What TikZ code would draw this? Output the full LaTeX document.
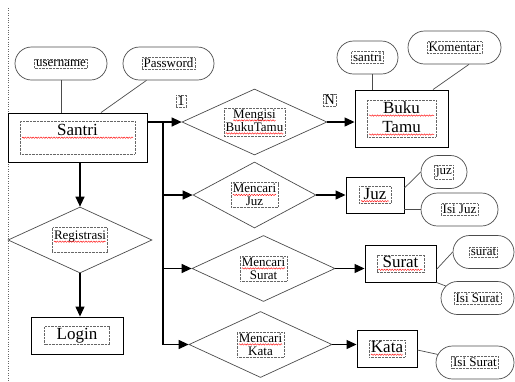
\documentclass[tikz,border=0pt]{standalone}
\usepackage{fontspec}
\setmainfont{Liberation Serif}
\usetikzlibrary{arrows.meta,shapes.geometric,shapes.misc,decorations.pathmorphing}
\newcommand\kecil{\fontsize{13}{13}\selectfont}
\newcommand\sedang{\fontsize{14.5}{15}\selectfont}
\newcommand\besar{\fontsize{17}{19}\selectfont}
\newcommand\salah[1]{\tikz[baseline=(w.base),x=1pt,y=1pt]{\node[inner sep=0,outer sep=0,draw=none] (w) {#1};
  \draw[red,line width=0.4pt,solid,decorate,decoration={snake,amplitude=0.7pt,segment length=2.6pt}]
    ([yshift=-2.2pt]w.base west) -- ([yshift=-2.2pt]w.base east);}}
\begin{document}
\begin{tikzpicture}[x=1pt,y=-1pt,
  entity/.style={draw,line width=0.9pt,inner sep=0},
  attrib/.style={rounded rectangle,draw=black!70,line width=0.7pt,minimum height=33,inner sep=0},
  relasi/.style={diamond,draw=black!70,line width=0.7pt,inner sep=0,minimum height=66},
  tbox/.style={draw=black!60,densely dotted,line width=0.4pt,inner sep=1.5pt,font=\kecil,align=center},
  garis/.style={draw=black!70,line width=0.7pt},
  arr/.style={line width=1.2pt,-{Triangle[length=10pt,width=9pt]}}]
\useasboundingbox (0,0) rectangle (515,381);
\draw[dotted,black!60] (8,8) -- (8,381);
% entitas
\node[entity,minimum width=139,minimum height=49,
  label={[tbox,font=\besar,minimum width=111,text height=13,text depth=17]center:\salah{Santri}}] (santri) at (77.5,137.5) {};
\node[entity,minimum width=93,minimum height=57,
  label={[tbox,font=\besar,minimum width=65]center:\salah{Buku}\\\salah{Tamu}}] (buku) at (401.5,118.5) {};
\node[entity,minimum width=58,minimum height=36,
  label={[tbox,font=\besar,minimum width=28]center:\salah{Juz}}] (juz) at (375,195) {};
\node[entity,minimum width=71,minimum height=37,
  label={[tbox,font=\besar,minimum width=44]center:\salah{Surat}}] (surat) at (400.5,263.5) {};
\node[entity,minimum width=60,minimum height=37,
  label={[tbox,font=\besar,minimum width=32]center:\salah{Kata}}] (kata) at (387,348.5) {};
\node[entity,minimum width=92,minimum height=37,
  label={[tbox,font=\besar,minimum width=65]center:Login}] (login) at (77,335.5) {};
% atribut
\foreach \nm/\px/\py/\w/\tx in {uname/61/63.5/92/username, pass/168.5/63.5/91/Password,
    asantri/367.5/57.5/61/santri, kom/454.5/47.5/93/Komentar, ajuz/444/172/46/juz,
    isijuz/459.5/209.5/77/Isi Juz, asurat/483.5/252/61/surat,
    isis1/477.5/298/73/Isi Surat, isis2/475/362.5/78/Isi Surat}
  \node[attrib,minimum width=\w,label={[tbox]center:\tx}] (\nm) at (\px,\py) {};
% relasi
\node[relasi,minimum width=145,
  label={[tbox]center:\salah{Mengisi}\\\salah{BukuTamu}}] (mengisi) at (254.5,122) {};
\foreach \nm/\px/\py/\w/\tx in {mjuz/254.5/195/123/Juz, msurat/263.5/268.5/143/Surat, mkata/260.5/344.5/143/Kata}
  \node[relasi,minimum width=\w,label={[tbox]center:\salah{Mencari}\\\tx}] (\nm) at (\px,\py) {};
\node[relasi,minimum width=144,
  label={[tbox,text height=10.5,text depth=11.5]center:\salah{Registrasi}}] (reg) at (80,240) {};
\node[tbox,font=\sedang] (satu) at (181,101) {1};
\node[tbox,font=\sedang] (banyak) at (329.5,100) {N};
% garis atribut
\draw[garis] (uname) -- (uname |- santri.north);
\draw[garis] ([xshift=-22]pass.south) -- ([xshift=23.5]santri.north);
\draw[garis] ([xshift=4.5]asantri.south) -- ([xshift=4.5]asantri.south |- buku.north);
\draw[garis] ([xshift=14.5]kom.south) -- ([xshift=31.5]buku.north);
\draw[garis] ([yshift=7]juz.east) -- (ajuz.west);
\draw[garis] (isijuz.west -| juz.east) -- (isijuz.west);
\draw[garis] ([yshift=-6]surat.east) -- (asurat.west);
\draw[garis] (surat.south east) -- (isis1);
\draw[garis] ([yshift=-1.5]kata.east) -- (isis2);
% panah
\coordinate (br) at (163,122);
\draw[arr] ([yshift=15.5]santri.east) -- (mengisi.west);
\foreach \nm in {mjuz,msurat,mkata}
  \draw[arr] (br) |- (\nm.west);
\foreach \a/\b in {mengisi/buku,mjuz/juz,msurat/surat,mkata/kata}
  \draw[arr] (\a.east) -- (\a.east -| \b.west);
\draw[arr] (reg.north |- santri.south) -- (reg.north);
\draw[arr] (reg.south) -- (reg.south |- login.north);
\end{tikzpicture}
\end{document}
